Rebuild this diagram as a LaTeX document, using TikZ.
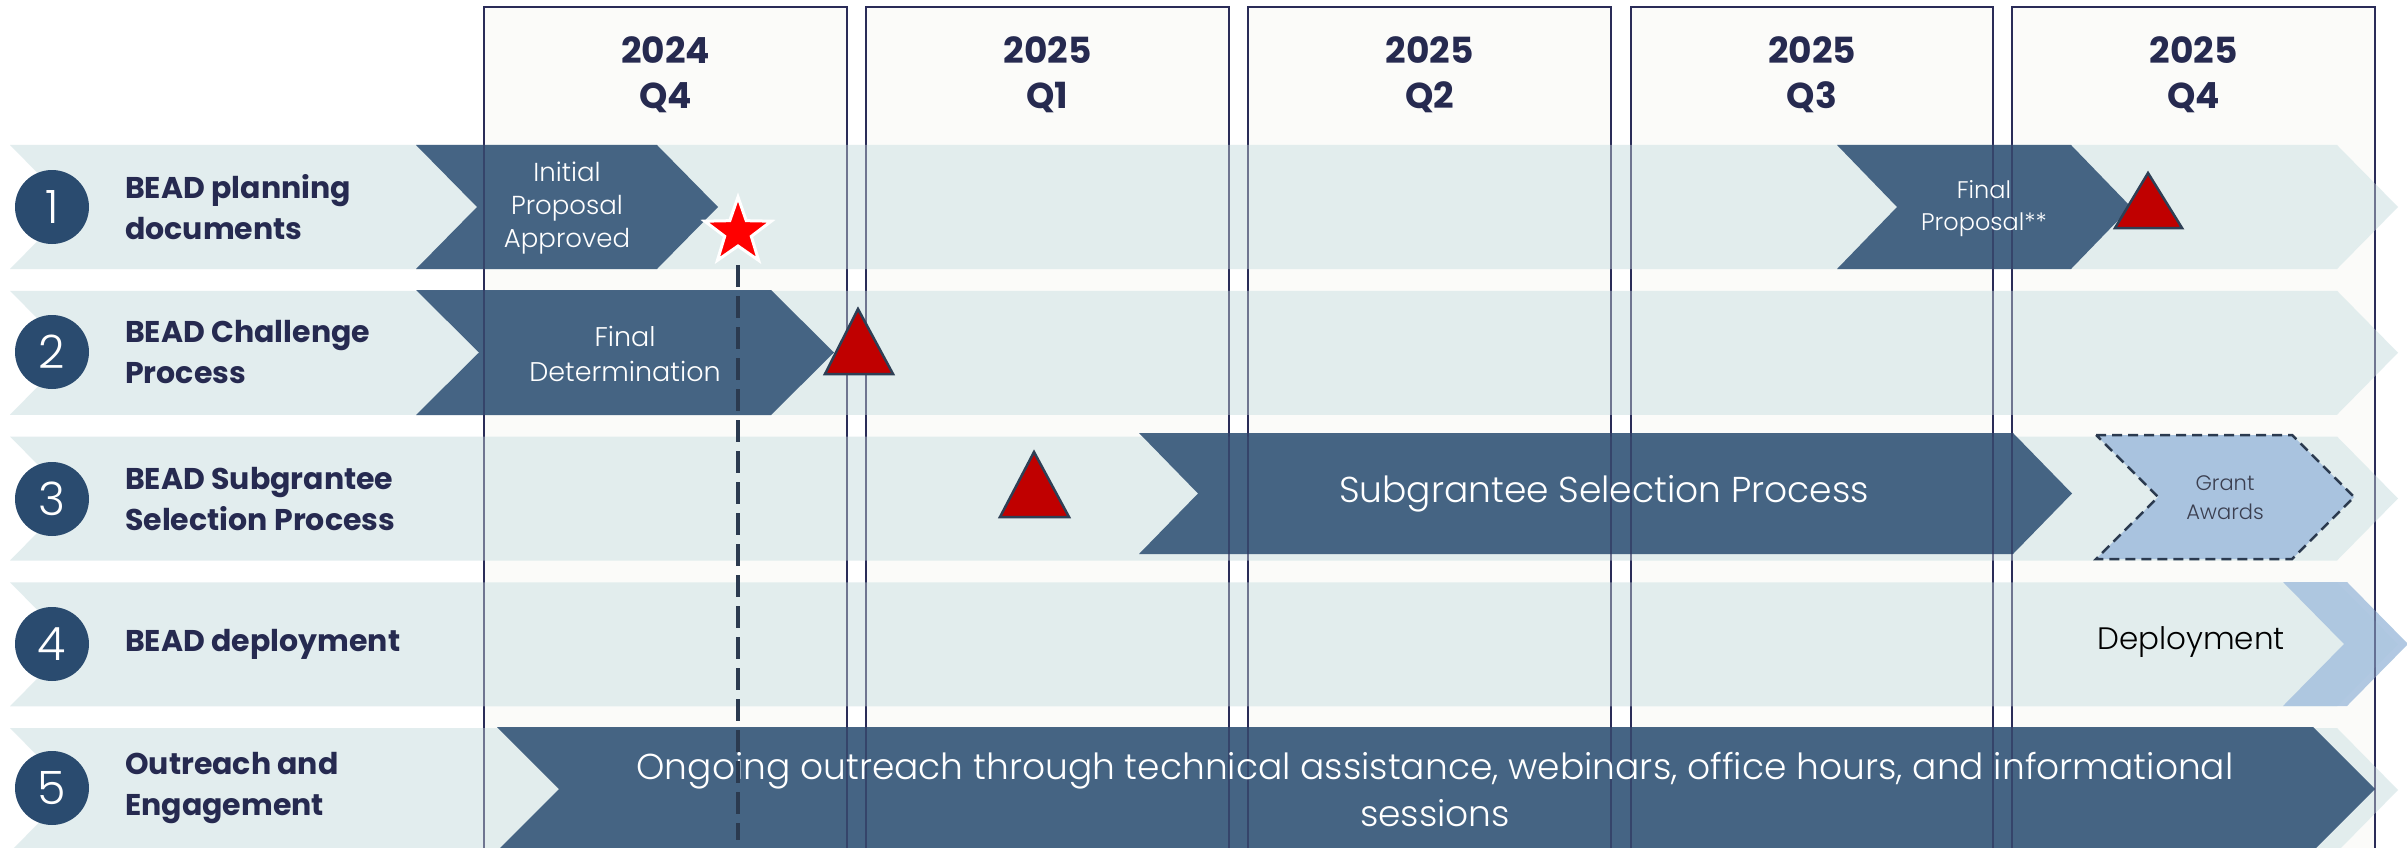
\documentclass[tikz,border=0pt]{standalone}
\usepackage{fontspec}
\setmainfont{Poppins}
\newfontfamily\lightf{Poppins Light}
\usetikzlibrary{shapes.geometric}
\definecolor{bandc}{HTML}{DEEBEC}
\definecolor{darkc}{HTML}{3A5A7C}
\definecolor{circc}{HTML}{2A4B6F}
\definecolor{navy}{HTML}{262A50}
\definecolor{colline}{HTML}{2A2C58}
\definecolor{colfill}{HTML}{FBFBF9}
\definecolor{lblue}{HTML}{A9C3DF}
\definecolor{redc}{HTML}{C00000}
\definecolor{starred}{HTML}{FF0000}
\definecolor{triline}{HTML}{2E3F55}
\definecolor{dashc}{HTML}{2B3A4F}
\definecolor{grayt}{HTML}{3B3F50}
\newcommand\chevshape[6][]{\path[#1] (#2,#3) -- (#4,#3) -- ({#4+#6},{#3+#5/2}) -- (#4,{#3+#5}) -- (#2,{#3+#5}) -- ({#2+#6},{#3+#5/2}) -- cycle;}
\tikzset{
  band/.style={fill=bandc, fill opacity=0.85},
  darkchev/.style={fill=darkc, fill opacity=0.93},
  colbox/.style={draw=colline, line width=2.5, fill=colfill},
  colover/.style={draw=colline, line width=2.2, draw opacity=0.55},
  milestone/.style={fill=redc, draw=triline, line width=2.5, line join=miter},
  rowlabel/.style={anchor=west, align=left, inner sep=0, text=navy, font=\bfseries\fontsize{30}{41}\selectfont},
  numc/.style={circle, fill=circc, minimum size=74, inner sep=0, text=white, font=\lightf\fontsize{46}{46}\selectfont},
  qtitle/.style={align=center, inner sep=0, text=navy, font=\bfseries\fontsize{36}{45}\selectfont},
  chevtext/.style={align=center, inner sep=0, text=white}
}
\begin{document}
\begin{tikzpicture}[x=1pt,y=-1pt]
\useasboundingbox (0,0) rectangle (2407,848);
\fill[white] (0,0) rectangle (2407,848);
% columns
\foreach \l/\r/\yr/\q [count=\i] in {484/847/2024/Q4, 866/1229/2025/Q1, 1248/1611/2025/Q2, 1631/1993/2025/Q3, 2012/2375/2025/Q4} {
  \draw[colbox] (\l,7) rectangle (\r,870);
  \node[qtitle] (title\i) at ({(\l+\r)/2},75) {\yr\\\q};
}
% bands
\foreach \t in {145,290.75,436.5,582.25,728} {
  \chevshape[band]{10}{\t}{2337}{124}{61}
}
% dark chevrons
\chevshape[darkchev]{416}{145}{657}{124}{61}
\chevshape[darkchev]{1837}{145}{2071}{124}{60}
\chevshape[darkchev]{416}{290}{771}{125}{63}
\chevshape[darkchev]{1139}{433}{2013}{121}{59}
\chevshape[darkchev]{497}{727}{2313}{124}{62}
% light chevrons
\chevshape[fill=lblue, draw=dashc, line width=2.5, dash pattern=on 10pt off 6pt]{2096}{435}{2292}{124}{62}
\chevshape[fill=lblue, fill opacity=0.9]{2283}{582}{2347}{124}{61}
% column lines showing through
\foreach \l/\r in {484/847, 866/1229, 1248/1611, 1631/1993, 2012/2375} {
  \draw[colover] (\l,140) -- (\l,870);
  \draw[colover] (\r,140) -- (\r,870);
}
% circles and labels
\foreach \y/\n/\txt [count=\i] in {207/1/{BEAD planning\\documents}, 352/2/{BEAD Challenge\\Process}, 499/3/{BEAD Subgrantee\\Selection Process}, 644/4/{BEAD deployment}, 788/5/{Outreach and\\Engagement}} {
  \node[numc] (num\i) at (52,\y) {\n};
  \node[rowlabel] (lab\i) at (125,\y) {\txt};
}
% chevron texts
\node[chevtext, font=\lightf\fontsize{26}{33}\selectfont] (initp) at (567,208) {Initial\\Proposal\\Approved};
\node[chevtext, font=\lightf\fontsize{27}{35}\selectfont] (findet) at (625,354) {Final\\Determination};
\node[chevtext, font=\lightf\fontsize{24}{32}\selectfont] (finprop) at (1984,209) {Final\\Proposal**};
\node[chevtext, font=\lightf\fontsize{36}{44}\selectfont] (subsel) at (1604,494) {Subgrantee Selection Process};
\node[chevtext, text=grayt, font=\lightf\fontsize{21}{29}\selectfont] (grant) at (2225,498) {Grant\\Awards};
\node[chevtext, text=black, font=\lightf\fontsize{31}{38}\selectfont] (deploy) at (2191,642) {Deployment};
\node[chevtext, font=\lightf\fontsize{36}{47}\selectfont] (outreach) at (1435,790) {Ongoing outreach through technical assistance, webinars, office hours, and informational\\sessions};
% milestones
\draw[milestone] (2148,173) -- (2182,228) -- (2115,228) -- cycle;
\draw[milestone] (858,309) -- (893,374) -- (825,374) -- cycle;
\draw[milestone] (1034,452) -- (1069,517) -- (1000,517) -- cycle;
% dashed line and star
\coordinate (dstart) at (738,265);
\coordinate (dend) at (738,840);
\draw[dashc, line width=3.5, dash pattern=on 22pt off 9pt] (dstart) -- (dend);
\node[star, star points=5, star point ratio=2.5, minimum size=70, inner sep=0, fill=starred, draw=white, line width=3] (star) at (738,232) {};
\end{tikzpicture}
\end{document}
